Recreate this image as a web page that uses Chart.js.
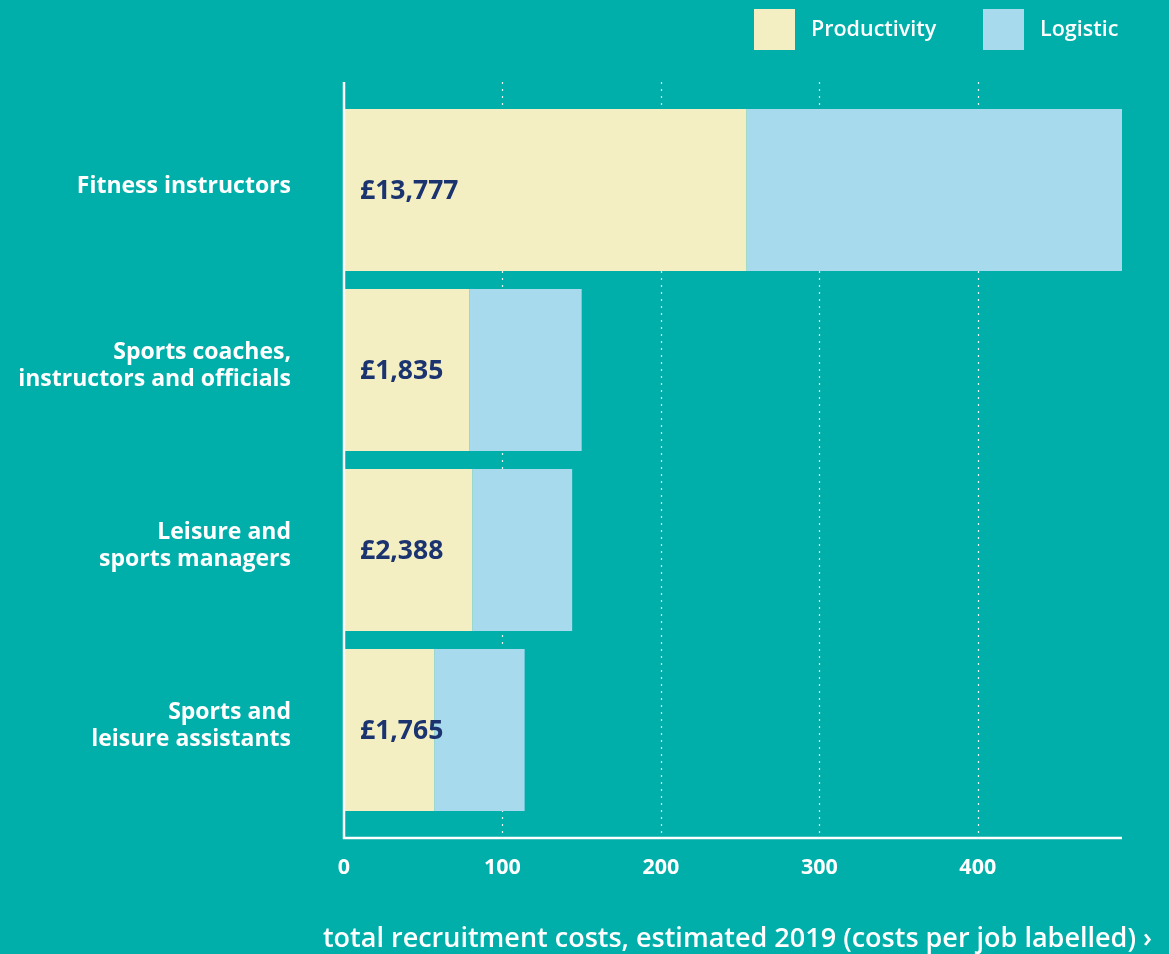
<!DOCTYPE html>
<html>
<head>
<meta charset="utf-8">
<script src="https://cdn.jsdelivr.net/npm/chart.js@4"></script>
<style>
  html, body { margin: 0; padding: 0; background: #00AFAA; }
  #wrap { width: 1169px; height: 954px; position: relative; }
</style>
</head>
<body>
<div id="wrap"><canvas id="recruitment-chart"></canvas></div>
<script>
const categories = [
    'Fitness instructors',
    ['Sports coaches,', 'instructors and officials'],
    ['Leisure and', 'sports managers'],
    ['Sports and', 'leisure assistants']
];
const productivity = [254, 79, 81, 57];
const logistic = [237, 71, 63, 57];
const costPerJob = ['£13,777', '£1,835', '£2,388', '£1,765'];
const xTicks = [0, 100, 200, 300, 400];
const axisTitle = 'total recruitment costs, estimated 2019 (costs per job labelled) \u203A';

const FONT = '"Open Sans", sans-serif';
const totals = productivity.map((v, i) => v + logistic[i]);

// axis lines, dotted grid, bar labels, legend and title
const decorations = {
    id: 'decorations',
    beforeDatasetsDraw(chart) {
        const { ctx, chartArea, scales } = chart;
        const top = chartArea.top - 18, bottom = chartArea.bottom + 18;
        ctx.save();
        ctx.strokeStyle = 'rgba(255,255,255,0.9)';
        ctx.lineWidth = 1.2;
        ctx.setLineDash([2, 5]);
        xTicks.slice(1).forEach(t => {
            const x = Math.round(scales.x.getPixelForValue(t)) + 0.5;
            ctx.beginPath();
            ctx.moveTo(x, top);
            ctx.lineTo(x, bottom);
            ctx.stroke();
        });
        ctx.restore();
    },
    afterDatasetsDraw(chart) {
        const { ctx, chartArea } = chart;
        const top = chartArea.top - 18, bottom = chartArea.bottom + 18;
        ctx.save();
        // axes
        ctx.strokeStyle = '#ffffff';
        ctx.lineWidth = 2.5;
        ctx.beginPath();
        ctx.moveTo(chartArea.left, top);
        ctx.lineTo(chartArea.left, bottom);
        ctx.lineTo(chartArea.right, bottom);
        ctx.stroke();

        // cost per job labels
        const meta = chart.getDatasetMeta(0);
        ctx.fillStyle = '#1B3470';
        ctx.font = '700 26.5px ' + FONT;
        ctx.textAlign = 'left';
        ctx.textBaseline = 'middle';
        meta.data.forEach((bar, i) => {
            ctx.fillText(costPerJob[i], chartArea.left + 16, bar.y + 1);
        });

        // legend
        const legendPos = [754, 983];
        ctx.font = '600 21.5px ' + FONT;
        chart.data.datasets.forEach((ds, i) => {
            ctx.fillStyle = ds.backgroundColor;
            ctx.fillRect(legendPos[i], 9, 41, 41);
            ctx.fillStyle = '#ffffff';
            ctx.fillText(ds.label, legendPos[i] + 57, 30);
        });

        // axis title
        ctx.font = '600 27px ' + FONT;
        ctx.textAlign = 'right';
        ctx.fillText(axisTitle, 1152, 939);
        ctx.restore();
    }
};

const ctx = document.getElementById('recruitment-chart').getContext('2d');
const recruitmentChart = new Chart(ctx, {
    type: 'bar',
    data: {
        labels: categories,
        datasets: [{
            label: 'Productivity',
            data: productivity,
            backgroundColor: '#F4EFC2',
            barPercentage: 0.9,
            categoryPercentage: 1
        }, {
            label: 'Logistic',
            data: logistic,
            backgroundColor: '#A6DAEC',
            barPercentage: 0.9,
            categoryPercentage: 1
        }]
    },
    options: {
        indexAxis: 'y',
        responsive: true,
        maintainAspectRatio: false,
        animation: false,
        layout: { padding: { top: 100, right: 47, left: 0, bottom: 0 } },
        plugins: {
            legend: { display: false },
            tooltip: { enabled: false }
        },
        scales: {
            x: {
                stacked: true,
                min: 0,
                max: Math.max(...totals),
                grid: { display: false, drawTicks: false },
                border: { display: false },
                afterFit: scale => { scale.height = 134; scale.paddingRight = 0; },
                afterBuildTicks: scale => { scale.ticks = xTicks.map(v => ({ value: v })); },
                ticks: {
                    padding: 35,
                    color: '#ffffff',
                    font: { family: FONT, size: 21.5, weight: '700' }
                }
            },
            y: {
                stacked: true,
                grid: { display: false, drawTicks: false },
                border: { display: false },
                afterFit: scale => { scale.width = 344; },
                ticks: {
                    padding: 53,
                    labelOffset: -4,
                    color: '#ffffff',
                    font: { family: FONT, size: 23, weight: '700', lineHeight: '27px' }
                }
            }
        }
    },
    plugins: [decorations]
});
</script>
</body>
</html>
